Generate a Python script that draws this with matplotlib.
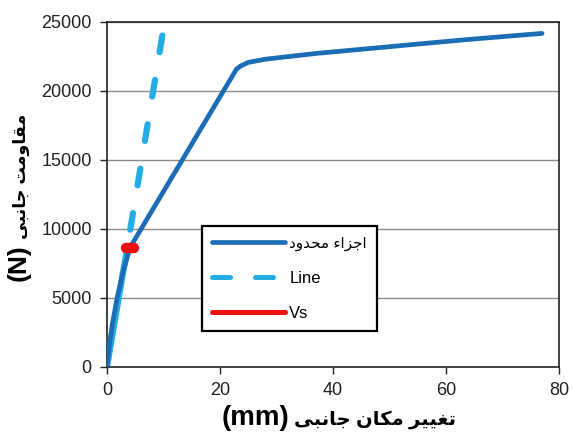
import matplotlib
matplotlib.use("Agg")
import matplotlib.pyplot as plt

# --- data ---
fe_x = [0, 0.4, 1.0, 1.8, 2.8, 3.5, 4.1, 22.9, 23.6, 25.0, 28.0, 31.0, 37.0, 45.0, 55.0, 65.0, 77.0]
fe_y = [0, 1500, 3200, 5000, 6800, 7800, 8650, 21550, 21780, 22050, 22280, 22420, 22700, 23000, 23380, 23750, 24150]

line_x = [0, 3.6, 9.8]
line_y = [0, 8650, 24000]

vs_x = [3.4, 4.8]
vs_y = [8620, 8620]

x_ticks = [0, 20, 40, 60, 80]
y_ticks = [0, 5000, 10000, 15000, 20000, 25000]

label_fe = "اجزاء محدود"
label_x = "تغییر مکان جانبی"
label_y = "مقاومت جانبی"

# --- minimal persian shaping (matplotlib has no bidi / joining) ---
FORMS = {
    "ء": (0xFE80, None, None, None),
    "ا": (0xFE8D, 0xFE8E, None, None),
    "ب": (0xFE8F, 0xFE90, 0xFE91, 0xFE92),
    "ت": (0xFE95, 0xFE96, 0xFE97, 0xFE98),
    "ج": (0xFE9D, 0xFE9E, 0xFE9F, 0xFEA0),
    "ح": (0xFEA1, 0xFEA2, 0xFEA3, 0xFEA4),
    "د": (0xFEA9, 0xFEAA, None, None),
    "ر": (0xFEAD, 0xFEAE, None, None),
    "ز": (0xFEAF, 0xFEB0, None, None),
    "غ": (0xFECD, 0xFECE, 0xFECF, 0xFED0),
    "ق": (0xFED5, 0xFED6, 0xFED7, 0xFED8),
    "م": (0xFEE1, 0xFEE2, 0xFEE3, 0xFEE4),
    "ن": (0xFEE5, 0xFEE6, 0xFEE7, 0xFEE8),
    "و": (0xFEED, 0xFEEE, None, None),
    "ک": (0xFB8E, 0xFB8F, 0xFB90, 0xFB91),
    "ی": (0xFBFC, 0xFBFD, 0xFBFE, 0xFBFF),
}


def rtl(text):
    out = []
    for i, ch in enumerate(text):
        if ch not in FORMS:
            out.append(ch)
            continue
        iso, fin, ini, med = FORMS[ch]
        prev = text[i - 1] if i > 0 else ""
        nxt = text[i + 1] if i + 1 < len(text) else ""
        from_prev = fin is not None and prev in FORMS and FORMS[prev][2] is not None
        to_next = ini is not None and nxt in FORMS and FORMS[nxt][1] is not None
        if from_prev and to_next:
            code = med
        elif from_prev:
            code = fin
        elif to_next:
            code = ini
        else:
            code = iso
        out.append(chr(code))
    return "".join(reversed(out))


plt.rcParams["font.family"] = ["Liberation Sans", "DejaVu Sans"]

dark_blue = "#1b6db5"
light_blue = "#24ace4"
red = "#ee1111"

fig = plt.figure(figsize=(5.73, 4.33), dpi=100)
ax = fig.add_axes([0.1867, 0.1531, 0.7889, 0.7968])

# Line: solid up to Vs, dashed above (drawn top-down so a dash sits at the end)
ax.plot(line_x[:2], line_y[:2], color=light_blue, lw=4.5, solid_capstyle="round", zorder=2)
ax.plot(line_x[:0:-1], line_y[:0:-1], color=light_blue, lw=4.5, dashes=(2.7, 4.5),
        dash_capstyle="round", zorder=2)
ax.plot(fe_x, fe_y, color=dark_blue, lw=3.4, solid_capstyle="round",
        solid_joinstyle="round", zorder=3)
ax.plot(vs_x, vs_y, color=red, lw=7.5, solid_capstyle="round", zorder=4)

# legend proxies
h_fe, = ax.plot([], [], color=dark_blue, lw=3.4, solid_capstyle="round", label=rtl(label_fe))
h_line, = ax.plot([], [], color=light_blue, lw=3.6, dashes=(3.6, 5.0),
                  dash_capstyle="round", label="Line")
h_vs, = ax.plot([], [], color=red, lw=3.6, solid_capstyle="round", label="Vs")

ax.set_xlim(0, 80)
ax.set_ylim(0, 25000)
ax.set_xticks(x_ticks)
ax.set_yticks(y_ticks)
ax.tick_params(labelsize=13, colors="#222222", length=5, width=1, pad=6)
ax.yaxis.grid(True, color="#8c8c8c", lw=1)
ax.set_axisbelow(True)
for s in ax.spines.values():
    s.set_color("#222222")
    s.set_linewidth(1.2)

# axis titles: latin unit and persian words as two pieces on one baseline
ax.text(0.403, -0.168, "(mm)", transform=ax.transAxes, ha="right", va="baseline",
        fontsize=20, fontweight="bold")
ax.text(0.413, -0.168, rtl(label_x), transform=ax.transAxes, ha="left", va="baseline",
        fontsize=14, fontweight="bold")
ax.text(-0.179, 0.355, "(N)", transform=ax.transAxes, ha="right", va="baseline",
        rotation=90, rotation_mode="anchor", fontsize=19, fontweight="bold")
ax.text(-0.179, 0.37, rtl(label_y), transform=ax.transAxes, ha="left", va="baseline",
        rotation=90, rotation_mode="anchor", fontsize=12.5, fontweight="bold")

leg = ax.legend(handles=[h_fe, h_line, h_vs], loc="lower left",
                bbox_to_anchor=(0.21, 0.104), borderaxespad=0, fontsize=12,
                handlelength=4.4, handletextpad=0.25, labelspacing=1.2, borderpad=0.6,
                fancybox=False, framealpha=1, edgecolor="black")
leg.get_frame().set_linewidth(1.6)
leg.get_texts()[0].set_fontsize(11)

fig.savefig("out.png", dpi=100)
